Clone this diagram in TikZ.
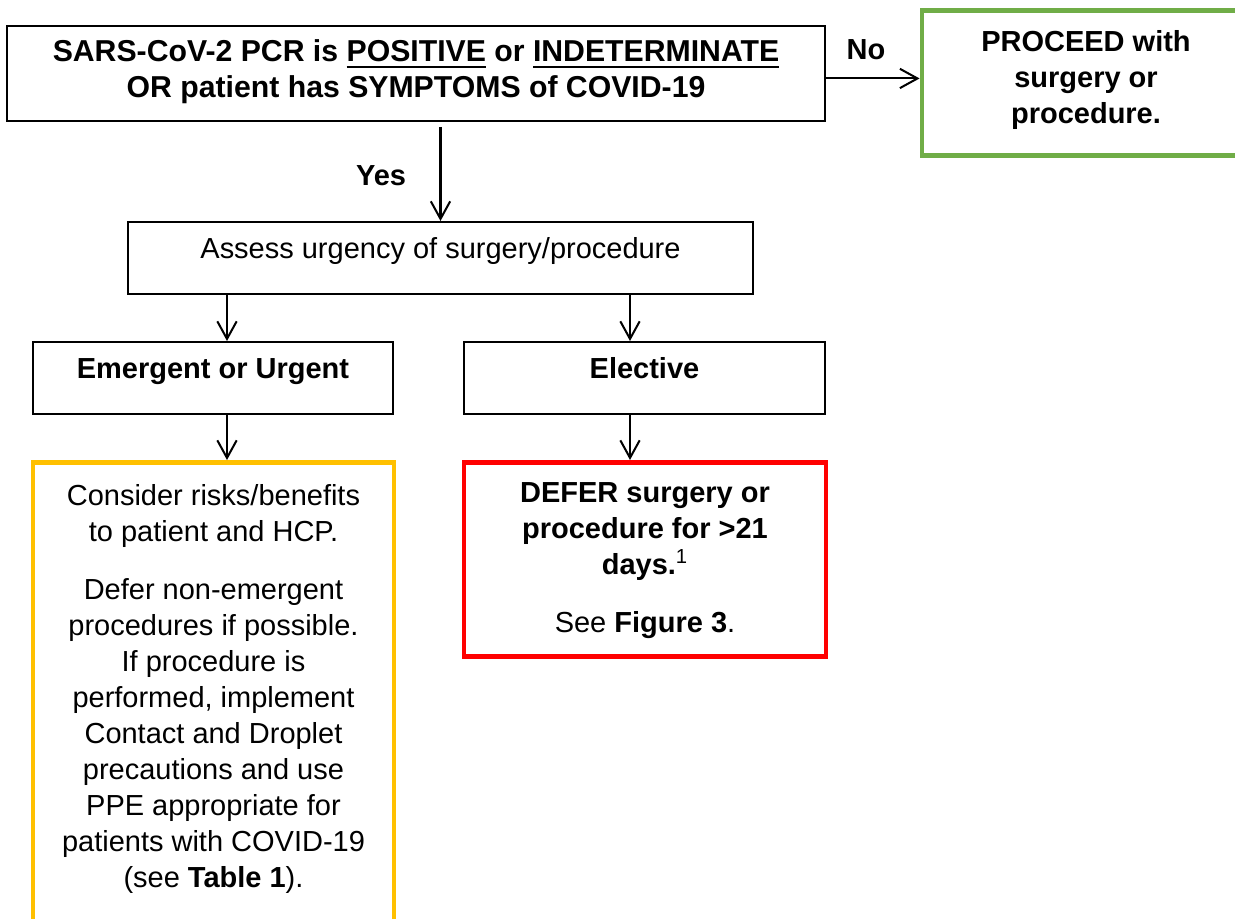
\documentclass[tikz,border=0pt]{standalone}
\usepackage{fontspec}
\setmainfont{Liberation Sans}
\usetikzlibrary{arrows.meta}

\definecolor{okgreen}{HTML}{70AD47}
\definecolor{warnyellow}{HTML}{FFC000}
\definecolor{stopred}{HTML}{FF0000}

\newcommand{\ulbox}[1]{\setbox0\hbox{#1}\rlap{\rule[-3.2pt]{\wd0}{1.1pt}}\box0\relax}

\tikzset{
	box/.style={draw, line width=1.1pt, inner sep=0pt, align=center},
	colbox/.style={box, line width=2.8pt},
	flow/.style={line width=1.15pt, -{Straight Barb[length=10pt,width=11pt]}},
}

\begin{document}
\begin{tikzpicture}[x=0.02cm, y=-0.02cm, font=\fontsize{16.5}{20.5}\selectfont]
	\useasboundingbox (0,0) rectangle (1235,919);

	\node[box, anchor=north, minimum width=16.36cm, text height=1.44cm, text depth=0.46cm, font=\fontsize{17.2}{20.5}\selectfont\bfseries] (test) at (416,25)
		{SARS-CoV-2 PCR is \ulbox{POSITIVE} or \ulbox{INDETERMINATE}\\OR patient has SYMPTOMS of COVID-19};
	\node[colbox, draw=okgreen, anchor=north, minimum width=6.56cm, text height=2.26cm, text depth=0.64cm, font=\fontsize{16.5}{20.5}\selectfont\bfseries] (proceed) at (1086,8)
		{PROCEED with\\surgery or\\procedure.};
	\node[font=\fontsize{16.5}{20.5}\selectfont\bfseries] (no) at (866,50) {No};
	\node[font=\fontsize{16.5}{20.5}\selectfont\bfseries] (yes) at (381,176) {Yes};

	\node[box, anchor=north, minimum width=12.5cm, text height=0.74cm, text depth=0.7cm] (assess) at (440.5,221)
		{Assess urgency of surgery/procedure};
	\node[box, anchor=north, minimum width=7.2cm, text height=0.74cm, text depth=0.7cm, font=\fontsize{16.5}{20.5}\selectfont\bfseries] (emerg) at (213,341)
		{Emergent or Urgent};
	\node[box, anchor=north, minimum width=7.22cm, text height=0.74cm, text depth=0.7cm, font=\fontsize{16.5}{20.5}\selectfont\bfseries] (elective) at (644.5,341)
		{Elective};

	\node[colbox, draw=warnyellow, anchor=north, minimum width=7.22cm, text height=8.5cm, text depth=1.1cm] (consider) at (213.5,460)
		{Consider risks/benefits\\to patient and HCP.\\[0.44cm]
		Defer non-emergent\\procedures if possible.\\If procedure is\\performed, implement\\Contact and Droplet\\precautions and use\\PPE appropriate for\\patients with COVID-19\\(see \textbf{Table 1}).};
	\node[colbox, draw=stopred, anchor=north, minimum width=7.24cm, text height=3.4cm, text depth=0.48cm] (defer) at (645,460)
		{\textbf{DEFER surgery or}\\\textbf{procedure for >21}\\\textbf{days.}\textsuperscript{1}\\[0.44cm]
		See \textbf{Figure 3}.};

	\draw[flow] ([yshift=-0.1cm]test.east) -- ([yshift=-0.1cm]test.east -| proceed.west);
	\draw[flow] ([yshift=-0.1cm]test.south -| assess.north) -- (assess.north);
	\draw[flow] ([xshift=0.28cm]emerg.north |- assess.south) -- ([xshift=0.28cm]emerg.north);
	\draw[flow] ([xshift=-0.29cm]elective.north |- assess.south) -- ([xshift=-0.29cm]elective.north);
	\draw[flow] ([xshift=0.27cm]consider.north |- emerg.south) -- ([xshift=0.27cm]consider.north);
	\draw[flow] ([xshift=-0.3cm]defer.north |- elective.south) -- ([xshift=-0.3cm]defer.north);
\end{tikzpicture}
\end{document}
